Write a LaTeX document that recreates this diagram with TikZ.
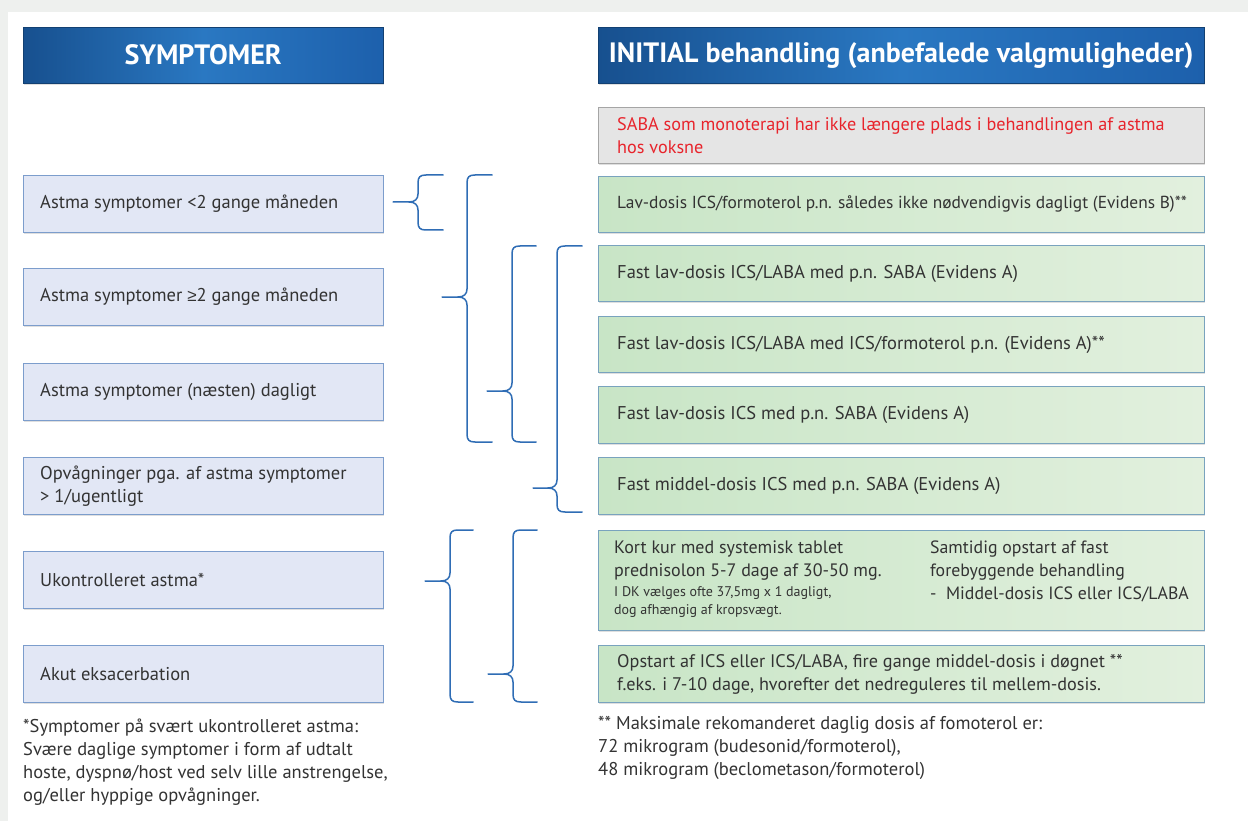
\documentclass[tikz,border=0pt]{standalone}
\usepackage{fontspec}
\setmainfont{PT Sans}
\newfontfamily\symf{Liberation Sans}
\usetikzlibrary{shadows}
\definecolor{hdark}{HTML}{17508F}
\definecolor{hlight}{HTML}{2A78C2}
\definecolor{hright}{HTML}{1D60AC}
\definecolor{lfill}{HTML}{E2E7F5}
\definecolor{lborder}{HTML}{7C9DCC}
\definecolor{gleft}{HTML}{C8E5C6}
\definecolor{gright}{HTML}{E2F0DE}
\definecolor{gborder}{HTML}{79A3BE}
\definecolor{grayfill}{HTML}{E5E5E5}
\definecolor{grayborder}{HTML}{A5A5A5}
\definecolor{redtxt}{HTML}{E8242C}
\definecolor{txt}{HTML}{333333}
\definecolor{brc}{HTML}{2F6DB5}
\definecolor{bggray}{HTML}{EEF0EE}
\newcommand\fs[1]{\fontsize{#1}{23}\selectfont}
\tikzset{
  shd/.style={drop shadow={opacity=0.25,shadow xshift=1pt,shadow yshift=-1.5pt}},
  hdr/.style={shd,draw=hdark!80!black,line width=0.4pt,left color=hdark,right color=hright,middle color=hlight,
    anchor=north west,minimum height=56,inner sep=0pt},
  hdrtxt/.style={text=white,font=\fontsize{28}{30}\selectfont\bfseries},
  lbox/.style={shd,draw=lborder,fill=lfill,line width=0.9pt,anchor=north west,minimum width=360,minimum height=57,inner sep=0pt},
  gbox/.style={shd,draw=gborder,left color=gleft,right color=gright,line width=0.9pt,anchor=north west,minimum width=606,inner sep=0pt},
  graybox/.style={shd,draw=grayborder,fill=grayfill,line width=0.9pt,anchor=north west,minimum width=606,minimum height=56,inner sep=0pt},
  btxt/.style={anchor=west,align=left,text=txt,inner sep=0pt,font=\fs{18.5}},
  smalltxt/.style={anchor=north west,align=left,text=txt,inner sep=0pt,font=\fontsize{14}{18}\selectfont},
  foot/.style={anchor=north west,align=left,text=txt,inner sep=0pt,font=\fs{18.5}},
  brline/.style={draw=brc,line width=1.5pt,line cap=round,line join=round}
}
\newcommand\mybrace[6]{% xend, xv, xtip, ytop, ybot, ytip
  \draw[brline] (#1,#4) -- ({#2+8},#4) .. controls ({#2+2},#4) and (#2,{#4+2}) .. (#2,{#4+8})
    -- (#2,{#6-8}) .. controls (#2,{#6-3}) and ({#2-3},#6) .. ({#2-9},#6) -- (#3,#6);
  \draw[brline] ({#2-9},#6) .. controls ({#2-3},#6) and (#2,{#6+3}) .. (#2,{#6+8})
    -- (#2,{#5-8}) .. controls (#2,{#5-2}) and ({#2+2},#5) .. ({#2+8},#5) -- (#1,#5);
}
\begin{document}
\begin{tikzpicture}[x=1pt,y=-1pt]
\useasboundingbox (0,0) rectangle (1248,821);
\fill[bggray] (0,0) rectangle (1248,12);
\fill[bggray] (0,0) rectangle (8,821);
\fill[white] (8,12) rectangle (1248,821);

% headers
\node[hdr,minimum width=360] (h1) at (23,27) {};
\node[hdrtxt] at (h1.center) {SYMPTOMER};
\node[hdr,minimum width=606] (h2) at (598,27) {};
\node[hdrtxt] at (h2.center) {INITIAL behandling (anbefalede valgmuligheder)};

% gray box
\node[graybox] (g0) at (598,107) {};
\node[btxt,text=redtxt,font=\fs{18.2}] at ([xshift=19]g0.west) {SABA som monoterapi har ikke længere plads i behandlingen af astma\\hos voksne};

% left boxes
\node[lbox] (l1) at (23,175) {};
\node[btxt] at ([xshift=17]l1.west) {Astma symptomer <2 gange måneden};
\node[lbox] (l2) at (23,268) {};
\node[btxt] at ([xshift=17]l2.west) {Astma symptomer {\symf\fontsize{17}{23}\selectfont ≥}2 gange måneden};
\node[lbox] (l3) at (23,363) {};
\node[btxt] at ([xshift=17]l3.west) {Astma symptomer (næsten) dagligt};
\node[lbox] (l4) at (23,457) {};
\node[btxt] at ([xshift=17]l4.west) {Opvågninger pga. af astma symptomer\\> 1/ugentligt};
\node[lbox] (l5) at (23,551) {};
\node[btxt] at ([xshift=17]l5.west) {Ukontrolleret astma*};
\node[lbox] (l6) at (23,645) {};
\node[btxt] at ([xshift=17]l6.west) {Akut eksacerbation};

% green boxes
\node[gbox,minimum height=56] (r1) at (598,176) {};
\node[btxt,font=\fs{17.4}] at ([xshift=19]r1.west) {Lav-dosis ICS/formoterol p.n. således ikke nødvendigvis dagligt (Evidens B)**};
\node[gbox,minimum height=56] (r2) at (598,245) {};
\node[btxt] at ([xshift=19]r2.west) {Fast lav-dosis ICS/LABA med p.n. SABA (Evidens A)};
\node[gbox,minimum height=56] (r3) at (598,316) {};
\node[btxt] at ([xshift=19]r3.west) {Fast lav-dosis ICS/LABA med ICS/formoterol p.n. (Evidens A)**};
\node[gbox,minimum height=57] (r4) at (598,386) {};
\node[btxt] at ([xshift=19]r4.west) {Fast lav-dosis ICS med p.n. SABA (Evidens A)};
\node[gbox,minimum height=57] (r5) at (598,457) {};
\node[btxt] at ([xshift=19]r5.west) {Fast middel-dosis ICS med p.n. SABA (Evidens A)};
\node[gbox,minimum height=100] (r6) at (598,530) {};
\node[btxt,anchor=north west,font=\fs{18}] (r6a) at ([xshift=16,yshift=-11]r6.north west) {Kort kur med systemisk tablet\\prednisolon 5-7 dage af 30-50 mg.};
\node[smalltxt] at ([yshift=-5]r6a.south west) {I DK vælges ofte 37,5mg x 1 dagligt,\\dog afhængig af kropsvægt.};
\node[btxt,anchor=north west,font=\fs{17.8}] at ([xshift=332,yshift=-11]r6.north west) {Samtidig opstart af fast\\forebyggende behandling\\-\ \ Middel-dosis ICS eller ICS/LABA};
\node[gbox,minimum height=57] (r7) at (598,645) {};
\node[btxt,font=\fs{18.2}] at ([xshift=19]r7.west) {Opstart af ICS eller ICS/LABA, fire gange middel-dosis i døgnet **\\f.eks. i 7-10 dage, hvorefter det nedreguleres til mellem-dosis.};

% braces
\mybrace{443}{418}{393}{175}{230}{202}
\mybrace{492}{467}{442}{175}{442}{297}
\mybrace{536}{512}{487}{246}{442}{391}
\mybrace{582}{557}{533}{246}{512}{488}
\mybrace{473}{450}{425}{530}{702}{581}
\mybrace{537}{513}{488}{530}{702}{674}

% footnotes
\node[foot] (f1) at (23,719) {*Symptomer på svært ukontrolleret astma:\\Svære daglige symptomer i form af udtalt\\hoste, dyspnø/host ved selv lille anstrengelse,\\og/eller hyppige opvågninger.};
\node[foot] (f2) at (598,716) {** Maksimale rekomanderet daglig dosis af fomoterol er:\\72 mikrogram (budesonid/formoterol),\\48 mikrogram (beclometason/formoterol)};
\end{tikzpicture}
\end{document}
